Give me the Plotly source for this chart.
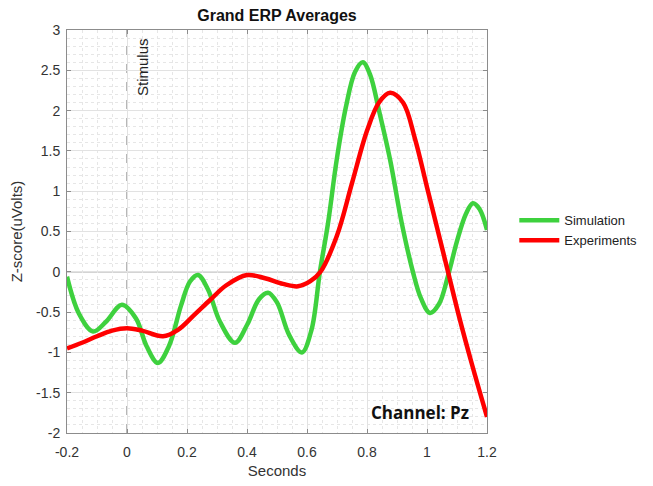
import plotly.graph_objects as go

sim_x = [-0.2, -0.16, -0.113, -0.07, -0.017, 0.03, 0.065, 0.103, 0.14, 0.18, 0.21, 0.237, 0.27, 0.31, 0.36, 0.40, 0.44, 0.47, 0.50, 0.54, 0.583, 0.615, 0.643, 0.67, 0.699, 0.73, 0.76, 0.786, 0.81, 0.84, 0.877, 0.915, 0.953, 0.98, 1.01, 1.04, 1.07, 1.10, 1.13, 1.153, 1.175, 1.2]
sim_y = [-0.06, -0.52, -0.74, -0.62, -0.41, -0.58, -0.92, -1.13, -0.92, -0.42, -0.12, -0.04, -0.22, -0.62, -0.88, -0.66, -0.34, -0.26, -0.38, -0.78, -1.0, -0.72, 0.0, 0.6, 1.39, 2.05, 2.48, 2.6, 2.45, 2.0, 1.39, 0.62, 0.0, -0.33, -0.51, -0.4, -0.05, 0.38, 0.72, 0.85, 0.78, 0.52]

exp_x = [-0.2, -0.15, -0.1, -0.05, 0.0, 0.05, 0.12, 0.17, 0.22, 0.277, 0.33, 0.40, 0.46, 0.52, 0.57, 0.61, 0.645, 0.70, 0.75, 0.80, 0.84, 0.877, 0.92, 0.96, 1.0, 1.04, 1.07, 1.11, 1.15, 1.2]
exp_y = [-0.95, -0.88, -0.8, -0.73, -0.70, -0.73, -0.80, -0.72, -0.55, -0.35, -0.17, -0.04, -0.08, -0.15, -0.18, -0.12, 0.0, 0.45, 1.1, 1.75, 2.1, 2.22, 2.1, 1.65, 1.05, 0.45, 0.0, -0.6, -1.15, -1.8]

x_ticks = [-0.2, 0, 0.2, 0.4, 0.6, 0.8, 1, 1.2]
x_labels = ["-0.2", "0", "0.2", "0.4", "0.6", "0.8", "1", "1.2"]
y_ticks = [-2, -1.5, -1, -0.5, 0, 0.5, 1, 1.5, 2, 2.5, 3]
y_labels = ["-2", "-1.5", "-1", "-0.5", "0", "0.5", "1", "1.5", "2", "2.5", "3"]

fig = go.Figure()
fig.add_trace(go.Scatter(x=sim_x, y=sim_y, mode="lines", name="Simulation",
                         line=dict(color="#3ed13e", width=4.5, shape="spline", smoothing=1.0)))
fig.add_trace(go.Scatter(x=exp_x, y=exp_y, mode="lines", name="Experiments",
                         line=dict(color="#ff0000", width=4.5, shape="spline", smoothing=1.0)))

# zero line and stimulus line
fig.add_shape(type="line", xref="x", yref="y", x0=-0.2, x1=1.2, y0=0, y1=0,
              line=dict(color="#6e6e6e", width=1), layer="below")
fig.add_shape(type="line", xref="x", yref="y", x0=0, x1=0, y0=-2, y1=3,
              line=dict(color="#6e6e6e", width=1, dash="dash"), layer="below")

fig.add_annotation(x=0.05, y=3, xref="x", yref="y", text="Stimulus", textangle=-90,
                   showarrow=False, xanchor="center", yanchor="top", yshift=-6,
                   font=dict(family="Liberation Sans, Arial", size=15, color="#222222"))
fig.add_annotation(x=1.145, y=-1.75, xref="x", yref="y", text="<b>Channel: Pz</b>",
                   showarrow=False, xanchor="right", yanchor="middle",
                   font=dict(family="Open Sans, Lato, sans-serif", size=17, color="#111111"))

axis_common = dict(
    showline=True, linecolor="#8c8c8c", linewidth=1, mirror="allticks",
    ticks="inside", ticklen=4, tickcolor="#8c8c8c",
    showgrid=True, gridcolor="#e2e2e2", gridwidth=1, zeroline=False,
    tickfont=dict(family="Liberation Sans, Arial", size=14, color="#333333"),
)

fig.update_xaxes(range=[-0.2, 1.2], tickvals=x_ticks, ticktext=x_labels, ticklabelstandoff=6,
                 title=dict(text="Seconds", font=dict(family="Liberation Sans, Arial", size=15, color="#333333"), standoff=6),
                 minor=dict(dtick=0.05, showgrid=True, gridcolor="#e6e6e6", griddash="dot", gridwidth=1),
                 **axis_common)
fig.update_yaxes(range=[-2, 3], tickvals=y_ticks, ticktext=y_labels, ticklabelstandoff=3,
                 title=dict(text="Z-score(uVolts)", font=dict(family="Liberation Sans, Arial", size=15, color="#333333"), standoff=9),
                 minor=dict(dtick=0.1, showgrid=True, gridcolor="#e6e6e6", griddash="dot", gridwidth=1),
                 **axis_common)

fig.update_layout(
    width=653, height=486,
    margin=dict(l=67, r=166, t=30, b=53, autoexpand=False),
    paper_bgcolor="white", plot_bgcolor="white",
    title=dict(text="<b>Grand ERP Averages</b>", x=(67 + 210) / 653, xanchor="center",
               y=1 - 15 / 486, yanchor="middle",
               font=dict(family="Liberation Sans, Arial", size=16, color="#111111")),
    legend=dict(x=1.065, y=0.565, xanchor="left", yanchor="top",
                font=dict(family="Liberation Sans, Arial", size=13, color="#222222"),
                bgcolor="rgba(0,0,0,0)", tracegroupgap=0, itemwidth=40),
    showlegend=True,
)

fig.write_html("out.html")
